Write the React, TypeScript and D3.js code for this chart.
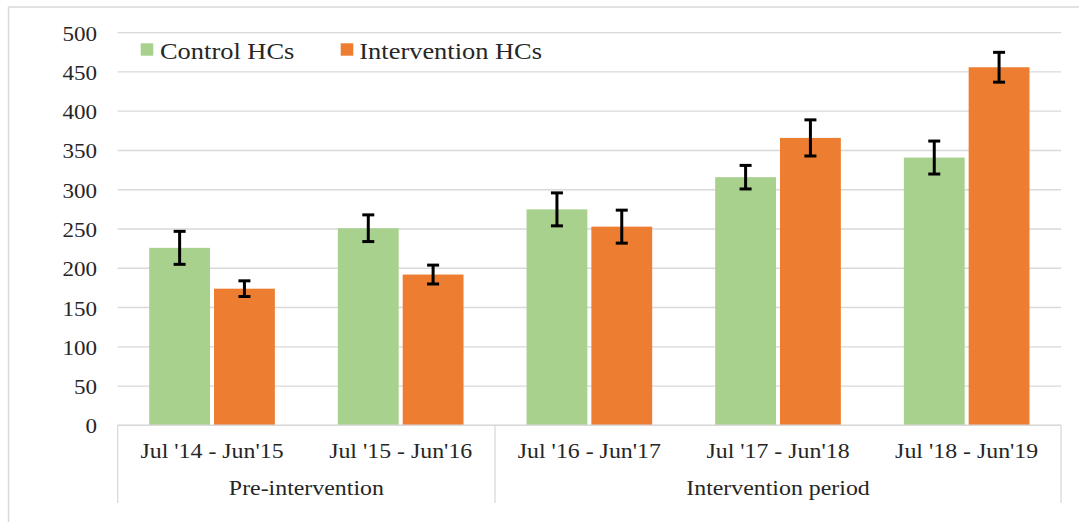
import React from "react";
import * as d3 from "d3";

const categories = ["Jul '14 - Jun'15", "Jul '15 - Jun'16", "Jul '16 - Jun'17", "Jul '17 - Jun'18", "Jul '18 - Jun'19"];
const seriesNames = ["Control HCs", "Intervention HCs"];
const seriesColors = ["#A9D18E", "#ED7D31"];
const controlValues = [226, 251, 275, 316, 341];
const controlErrors = [21, 17, 21, 15, 21];
const interventionValues = [174, 192, 253, 366, 456];
const interventionErrors = [10, 12, 21, 23, 19];
const periodLabels = ["Pre-intervention", "Intervention period"];
const periodSizes = [2, 3];
const yTicks = [0, 50, 100, 150, 200, 250, 300, 350, 400, 450, 500];

const W = 1079;
const H = 522;
const left = 117.7;
const right = 1061;
const top = 32.7;
const bottom = 425.3;
const SX = 1.12;
const FONT = "'Liberation Serif', 'Times New Roman', serif";

export default function App() {
  const x0 = d3.scaleBand<string>().domain(categories).range([left, right]).padding(0);
  const x1 = d3
    .scaleBand<string>()
    .domain(seriesNames)
    .range([0, x0.bandwidth()])
    .paddingInner(0.0615)
    .paddingOuter(0.486);
  const y = d3.scaleLinear().domain([0, 500]).range([bottom, top]);

  const series = [
    { name: seriesNames[0], values: controlValues, errors: controlErrors, color: seriesColors[0] },
    { name: seriesNames[1], values: interventionValues, errors: interventionErrors, color: seriesColors[1] },
  ];

  // period boundaries
  const boundaries: number[] = [left];
  let idx = 0;
  periodSizes.forEach((s) => {
    idx += s;
    const c = categories[idx - 1];
    boundaries.push((x0(c) as number) + x0.bandwidth());
  });

  const stext = (x: number, yy: number, txt: string, size: number, anchor: string, key?: any) => (
    <text
      key={key}
      transform={`translate(${x},${yy}) scale(${SX},1)`}
      fontFamily={FONT}
      fontSize={size}
      textAnchor={anchor}
      fill="#262626"
    >
      {txt}
    </text>
  );

  return (
    <svg width={W} height={H} style={{ position: "absolute", left: 0, top: 0, background: "#fff" }}>
      <rect x={0} y={0} width={W} height={H} fill="#fff" />
      {/* outer frame */}
      <rect x={8.5} y={7} width={W + 20} height={H + 20} fill="none" stroke="#D9D9D9" strokeWidth={1.5} />
      {/* gridlines */}
      {yTicks.map((t) => (
        <line key={t} x1={left} x2={right} y1={y(t)} y2={y(t)} stroke="#D9D9D9" strokeWidth={1.3} />
      ))}
      {/* y tick labels */}
      {yTicks.map((t) => stext(97, y(t) + 8, String(t), 20.6, "end", "yt" + t))}
      {/* bars */}
      {series.map((s) =>
        s.values.map((v, i) => {
          const bx = (x0(categories[i]) as number) + (x1(s.name) as number);
          return (
            <rect
              key={s.name + i}
              x={bx}
              y={y(v)}
              width={x1.bandwidth()}
              height={y(0) - y(v)}
              fill={s.color}
            />
          );
        })
      )}
      {/* error bars */}
      {series.map((s) =>
        s.values.map((v, i) => {
          const cx = (x0(categories[i]) as number) + (x1(s.name) as number) + x1.bandwidth() / 2;
          const hi = y(v + s.errors[i]);
          const lo = y(v - s.errors[i]);
          return (
            <g key={"e" + s.name + i} stroke="#000" strokeWidth={3}>
              <line x1={cx} x2={cx} y1={hi} y2={lo} />
              <line x1={cx - 6} x2={cx + 6} y1={hi} y2={hi} />
              <line x1={cx - 6} x2={cx + 6} y1={lo} y2={lo} />
            </g>
          );
        })
      )}
      {/* category axis line */}
      <line x1={left} x2={right} y1={bottom} y2={bottom} stroke="#D9D9D9" strokeWidth={1.5} />
      {boundaries.map((b, i) => (
        <line key={"b" + i} x1={b} x2={b} y1={bottom} y2={503} stroke="#D9D9D9" strokeWidth={1.3} />
      ))}
      {/* category labels */}
      {categories.map((c) => stext((x0(c) as number) + x0.bandwidth() / 2, 457.5, c, 21.3, "middle", "c" + c))}
      {/* period labels */}
      {periodLabels.map((p, i) => stext((boundaries[i] + boundaries[i + 1]) / 2, 495, p, 21.3, "middle", "p" + p))}
      {/* legend */}
      <rect x={140.7} y={43.3} width={12.6} height={12.4} fill={seriesColors[0]} />
      {stext(160, 58.5, seriesNames[0], 23.6, "start", "l0")}
      <rect x={340.7} y={43.3} width={12.6} height={12.4} fill={seriesColors[1]} />
      {stext(359.3, 58.5, seriesNames[1], 23.6, "start", "l1")}
    </svg>
  );
}
